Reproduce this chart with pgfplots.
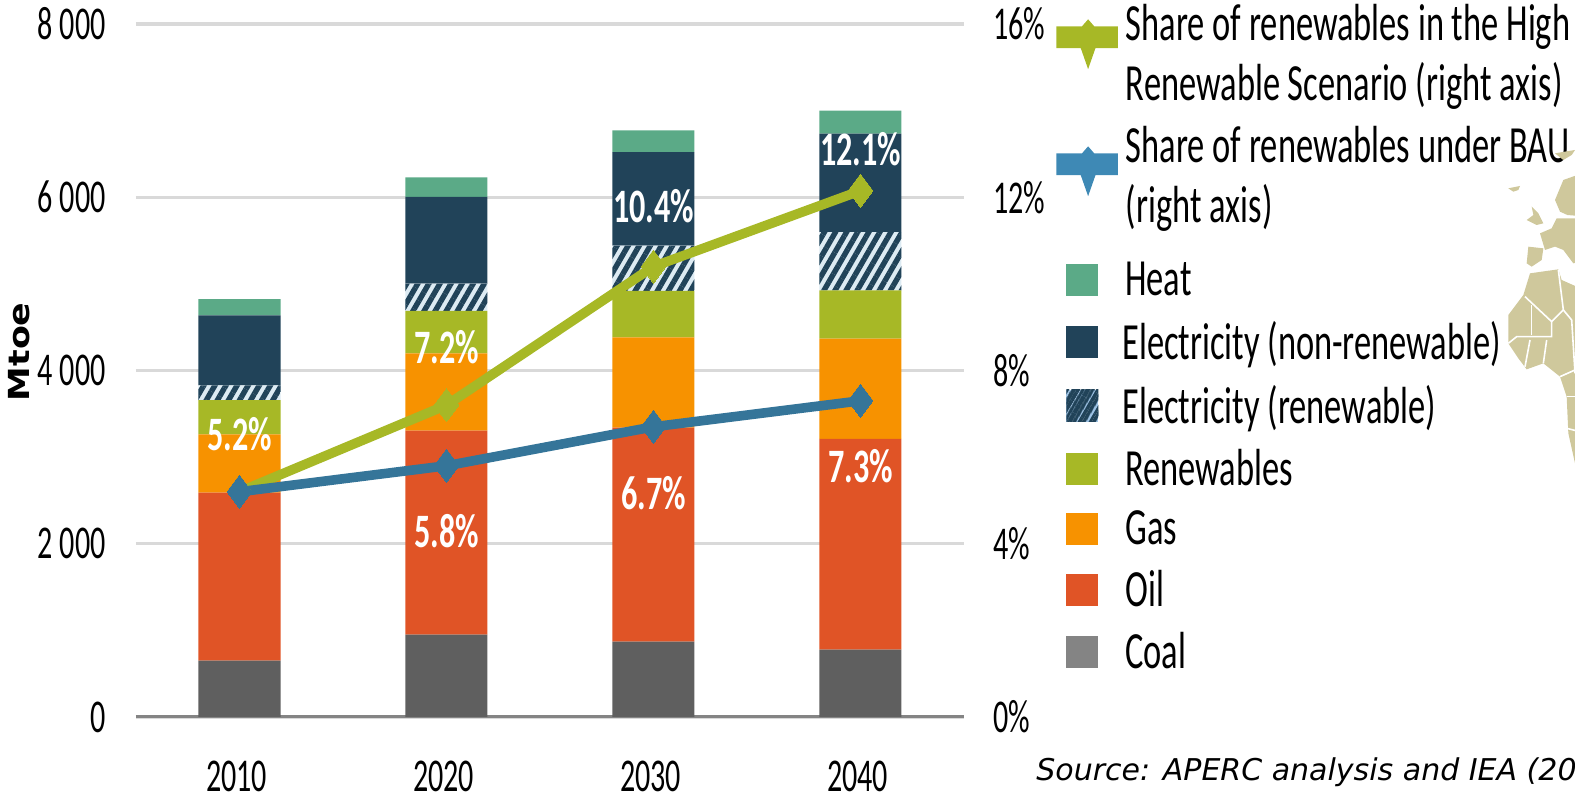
\documentclass[border=0pt]{standalone}
\usepackage{fontspec}
\usepackage{pgfplots}
\usepackage{pgfplotstable}
\pgfplotsset{compat=1.18}
\usetikzlibrary{patterns.meta}
\setmainfont{Carlito}
\newfontfamily\cond[FakeStretch=0.64]{Carlito}
\newfontfamily\legf[FakeStretch=0.66]{Carlito}
\newfontfamily\condb[FakeStretch=0.67]{Carlito Bold}
\newfontfamily\mtoefont[FakeStretch=1.2]{DejaVu Sans Bold}
\newfontfamily\srcfont{DejaVu Sans Oblique}
\definecolor{cheat}{HTML}{5BAA87}
\definecolor{celec}{HTML}{214359}
\definecolor{chatch}{HTML}{DDEBF3}
\definecolor{chatchleg}{HTML}{9DC3E6}
\definecolor{crenew}{HTML}{A7B826}
\definecolor{cgas}{HTML}{F79200}
\definecolor{coil}{HTML}{E05426}
\definecolor{ccoal}{HTML}{5F5F5F}
\definecolor{ccoalleg}{HTML}{848484}
\definecolor{cblue}{HTML}{357599}
\definecolor{cblueleg}{HTML}{3E89B5}
\definecolor{cgrid}{HTML}{D9D9D9}
\definecolor{cbase}{HTML}{848484}
\definecolor{cmap}{HTML}{CFC89C}
\pgfplotstableread{
idx coal oil gas renew hatch elec heat
0 650 1940 673 396 170 808 188
1 950 2355 893 489 315 1001 227
2 869 2471 1043 535 523 1081 251
3 777 2433 1159 557 672 1136 266
}\energy
\pgfplotstableread{
idx high bau
0 5.2 5.2
1 7.2 5.8
2 10.4 6.7
3 12.15 7.3
}\shares
\tikzset{
  hatchstyle/.style={postaction={pattern={Lines[angle=60,distance=4.8pt,line width=2.7pt]},pattern color=celec}},
}
\newcommand{\swatch}[1]{\fill[#1] (2.75pt,-8pt) rectangle (18.75pt,8pt);}
\newcommand{\lineimg}[2]{\begin{scope}[yshift=#2]\fill[#1] (13.5pt,5.3pt) -- (15.5pt,3pt) -- (26pt,3pt) -- (26pt,-3pt) -- (15.5pt,-3pt) -- (13.5pt,-8.7pt) -- (11.5pt,-3pt) -- (0pt,-3pt) -- (0pt,3pt) -- (11.5pt,3pt) -- cycle;\end{scope}}
\pgfplotsset{mylegend/.style={legend style={draw=none,fill=none,anchor=north west,
    inner sep=0pt,outer sep=0pt,row sep=11.4pt,
    font=\legf\fontsize{26.1}{30}\selectfont,
    cells={anchor=west,align=left},
    nodes={inner sep=0pt,outer sep=0pt}}}}
\begin{document}
\begin{tikzpicture}[x=0.5pt,y=0.5pt]
\path[clip,use as bounding box] (0,0) rectangle (1575,796);
\begin{axis}[
  at={(68pt,39.5pt)},anchor=south west,scale only axis,
  width=414pt,height=346.5pt,
  xmin=-0.5,xmax=3.5,ymin=0,ymax=8000,
  ybar stacked,bar width=41pt,
  axis x line=bottom,axis y line=left,
  x axis line style={draw=cbase,line width=1.5pt,-},
  y axis line style={draw=none},
  major tick length=0pt,
  xtick={0,1,2,3},xticklabels={2010,2020,2030,2040},
  ytick={0,2000,4000,6000,8000},
  ymajorgrids,grid style={cgrid,line width=1.6pt},
  tick label style={font=\cond\fontsize{23.5}{28}\selectfont,inner sep=0pt,text=black},
  xticklabel style={anchor=center,yshift=-29.5pt,xshift=-1.5pt},
  yticklabel style={anchor=east,xshift=-15pt,/pgf/number format/.cd,assume math mode=true,1000 sep={\ }},
  ylabel={Mtoe},
  every axis y label/.style={at={(axis description cs:-0.1413,0.527)},rotate=90,anchor=center,font=\mtoefont\fontsize{14.5}{16}\selectfont},
  mylegend,
  legend style={at={(axis description cs:1.1236,0.657)},/tikz/column 1/.style={column sep=13.5pt}},
  reverse legend,
]
\addplot[fill=ccoal,draw=none,legend image code/.code={\swatch{ccoalleg}}] table[x=idx,y=coal]{\energy};
\addlegendentry{Coal}
\addplot[fill=coil,draw=none,legend image code/.code={\swatch{coil}}] table[x=idx,y=oil]{\energy};
\addlegendentry{Oil}
\addplot[fill=cgas,draw=none,legend image code/.code={\swatch{cgas}}] table[x=idx,y=gas]{\energy};
\addlegendentry{Gas}
\addplot[fill=crenew,draw=none,legend image code/.code={\swatch{crenew}}] table[x=idx,y=renew]{\energy};
\addlegendentry{Renewables}
\addplot[fill=chatch,draw=none,hatchstyle,legend image code/.code={\fill[chatchleg,postaction={pattern={Lines[angle=60,distance=4pt,line width=1.7pt]},pattern color=celec}] (2.75pt,-8pt) rectangle (18.75pt,8pt);}] table[x=idx,y=hatch]{\energy};
\addlegendentry{\hspace*{-1.5pt}Electricity (renewable)}
\addplot[fill=celec,draw=none,legend image code/.code={\swatch{celec}}] table[x=idx,y=elec]{\energy};
\addlegendentry{\hspace*{-1.5pt}Electricity (non-renewable)}
\addplot[fill=cheat,draw=none,legend image code/.code={\swatch{cheat}}] table[x=idx,y=heat]{\energy};
\addlegendentry{Heat}
\end{axis}
\begin{axis}[
  at={(68pt,39.5pt)},anchor=south west,scale only axis,
  width=414pt,height=346.5pt,
  xmin=-0.5,xmax=3.5,ymin=0,ymax=16,
  axis x line=none,axis y line=right,
  y axis line style={draw=none},
  major tick length=0pt,
  ytick={0,4,8,12,16},
  yticklabel={\pgfmathprintnumber[assume math mode=true]{\tick}\%},
  yticklabel style={anchor=west,xshift=14.5pt,inner sep=0pt,font=\cond\fontsize{23.5}{28}\selectfont},
  clip=false,
  mylegend,
  legend style={at={(axis description cs:1.1115,1.028)},/tikz/column 1/.style={column sep=4pt}},
]
\addplot[crenew,line width=4.8pt,mark=diamond*,mark size=8.25pt,mark options={fill=crenew,draw=crenew,line width=0pt},
  legend image code/.code={\lineimg{crenew}{8.5pt}}]
  table[x=idx,y=high]{\shares};
\addlegendentry{Share of renewables in the High\\Renewable Scenario (right axis)}
\addplot[cblue,line width=4.8pt,mark=diamond*,mark size=8.25pt,mark options={fill=cblue,draw=cblue,line width=0pt},
  legend image code/.code={\lineimg{cblueleg}{6pt}}]
  table[x=idx,y=bau]{\shares};
\addlegendentry{Share of renewables under BAU\\(right axis)}
\begin{scope}[every node/.style={text=white,font=\condb\fontsize{24}{26}\selectfont,inner sep=0pt}]
\node at (axis cs:0,6.52) {5.2\%};
\node at (axis cs:1,8.53) {7.2\%};
\node at (axis cs:1,4.3) {5.8\%};
\node at (axis cs:2,5.17) {6.7\%};
\node at (axis cs:2,11.8) {10.4\%};
\node at (axis cs:3,5.8) {7.3\%};
\node at (axis cs:3,13.1) {12.1\%};
\end{scope}
\end{axis}
% world map fragment (px coordinates, y up)
\begin{scope}[shift={(1480,656)},x=0.16667pt,y=-0.16667pt,fill=cmap]
\fill (85,145)--(120,138)--(115,150)--(100,155)--cycle;
\fill (155,200)--(175,220)--(190,250)--(170,255)--(140,240)--(160,225)--cycle;
\fill (320,95)--(250,120)--(225,180)--(240,215)--(262,225)--(320,230)--cycle;
\fill (320,235)--(230,235)--(215,265)--(180,280)--(195,330)--(225,320)--(250,330)--(280,370)--(320,360)--cycle;
\fill (145,320)--(190,325)--(185,360)--(155,380)--(140,370)--cycle;
\fill (150,400)--(235,388)--(245,420)--(290,440)--(320,440)--(320,1000)--(285,970)--(265,880)--(260,770)--(240,710)--(190,670)--(140,688)--(115,655)--(85,610)--(85,525)--(130,465)--cycle;
\fill (225,40)--(285,30)--(275,45)--(250,60)--cycle;
\draw[white,line width=0.8pt] (135,470)--(215,545)--(250,510)--(235,390);
\draw[white,line width=0.8pt] (215,545)--(215,590)--(110,590)--(85,610);
\draw[white,line width=0.8pt] (155,495)--(155,585);
\draw[white,line width=0.8pt] (250,510)--(275,540)--(285,700);
\draw[white,line width=0.8pt] (135,680)--(150,600);
\draw[white,line width=0.8pt] (190,670)--(200,600);
\draw[white,line width=0.8pt] (240,710)--(285,690);
\draw[white,line width=0.8pt] (260,770)--(320,770);
\draw[white,line width=0.8pt] (260,865)--(320,880);
\end{scope}
\node[anchor=west,inner sep=0pt,font=\srcfont\fontsize{15}{16}\selectfont] at (1036,23.5) {Source: APERC analysis and IEA (20};
\end{tikzpicture}
\end{document}
